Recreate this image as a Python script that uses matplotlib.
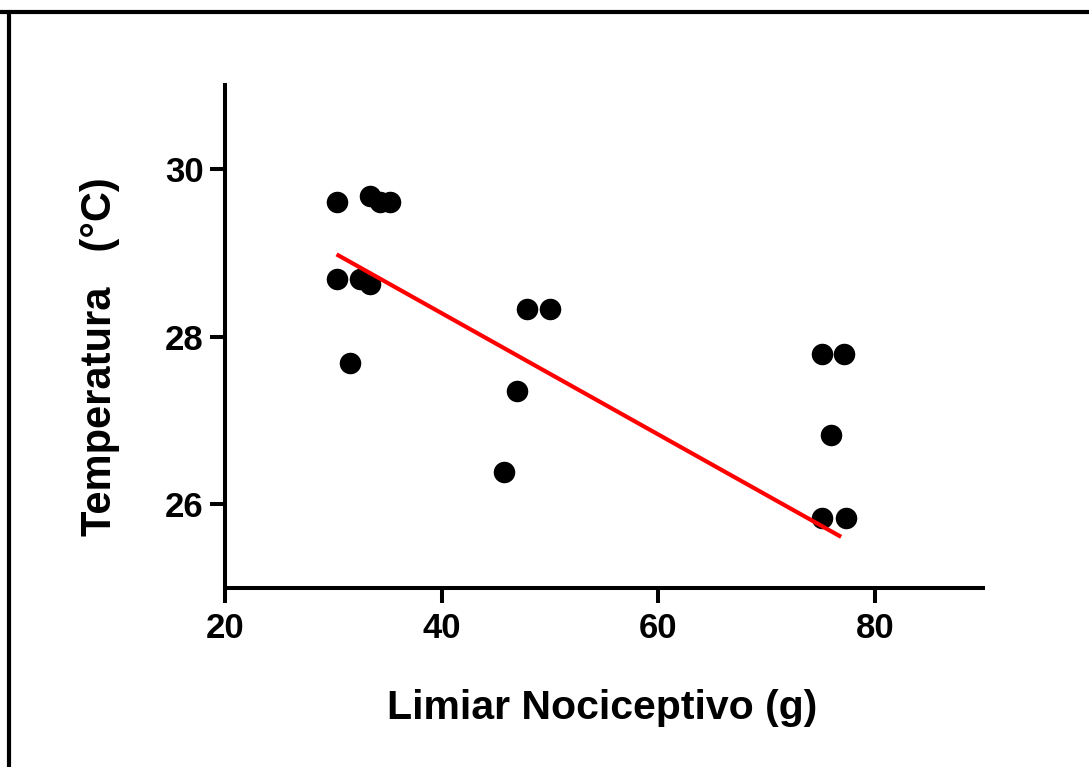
import matplotlib
matplotlib.use("Agg")
import matplotlib.pyplot as plt
from matplotlib.lines import Line2D

# Data
limiar = [30.34, 33.43, 34.35, 35.28, 30.34, 32.5, 33.43, 31.51,
          47.87, 50.03, 46.94, 45.74,
          75.16, 77.16, 75.93, 75.09, 77.31]
temperatura = [29.61, 29.67, 29.61, 29.61, 28.69, 28.68, 28.63, 27.68,
               28.33, 28.33, 27.35, 26.38,
               27.79, 27.79, 26.82, 25.84, 25.84]

fit_x = [30.3, 76.9]
fit_y = [28.98, 25.61]

x_ticks = [20, 40, 60, 80]
y_ticks = [26, 28, 30]

plt.rcParams['font.family'] = ['Liberation Sans', 'DejaVu Sans']
plt.rcParams['font.weight'] = 'bold'

W, H = 1089, 767
fig = plt.figure(figsize=(W / 100, H / 100), dpi=100)
ax = fig.add_axes([225 / W, 1 - 588 / H, (983 - 225) / W, (588 - 85) / H])

ax.scatter(limiar, temperatura, s=15.5 ** 2, color='black', zorder=3, linewidths=0)
ax.plot(fit_x, fit_y, color='#ff0000', lw=3, zorder=4, solid_capstyle='butt')

ax.set_xlim(20, 90)
ax.set_ylim(25, 31)
ax.set_xticks(x_ticks)
ax.set_yticks(y_ticks)

for s in ['top', 'right']:
    ax.spines[s].set_visible(False)
for s in ['left', 'bottom']:
    ax.spines[s].set_linewidth(2.9)
ax.tick_params(axis='both', direction='out', length=10.5, width=2.9,
               labelsize=25)
ax.tick_params(axis='x', pad=7)
ax.tick_params(axis='y', pad=5)
for lab in ax.get_xticklabels() + ax.get_yticklabels():
    lab.set_fontweight('bold')

ax.set_xlabel('Limiar Nociceptivo (g)', fontsize=29.5, fontweight='bold')
ax.set_ylabel('Temperatura   (°C)', fontsize=30, fontweight='bold')
ax.xaxis.set_label_coords((602 - 225) / (983 - 225), -(708 - 588) / (588 - 85), transform=ax.transAxes)
ax.xaxis.label.set_va('center')
ax.yaxis.set_label_coords(-(225 - 100) / (983 - 225), (588 - 357) / (588 - 85), transform=ax.transAxes)
ax.yaxis.label.set_va('center')

# Figure frame (top and left edges visible)
yt = 1 - 11.5 / H
fig.add_artist(Line2D([0, 1], [yt, yt], transform=fig.transFigure,
                      color='black', lw=3, solid_capstyle='butt'))
fig.add_artist(Line2D([9 / W, 9 / W], [0, yt], transform=fig.transFigure,
                      color='black', lw=3, solid_capstyle='butt'))

fig.savefig('out.png', dpi=100)
